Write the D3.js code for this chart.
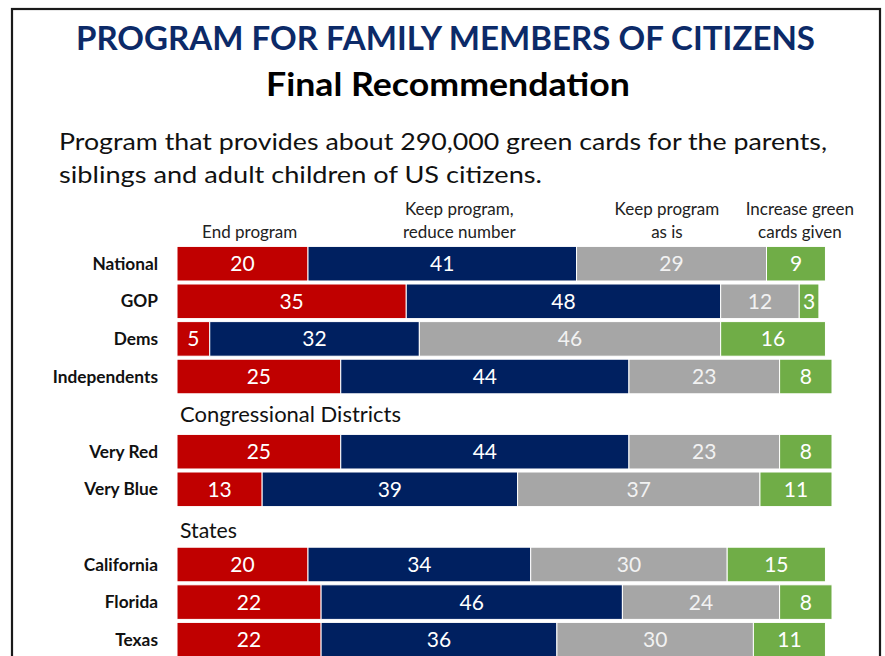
<!DOCTYPE html>
<html>
<head>
<meta charset="utf-8">
<script src="https://cdn.jsdelivr.net/npm/d3@7"></script>
<style>
  html, body { margin: 0; padding: 0; background: #fff; }
  svg { display: block; font-family: Lato, "Open Sans", "DejaVu Sans", sans-serif; }
</style>
</head>
<body>
<svg id="chart" width="885" height="656"></svg>
<script>
// ---------- data ----------
const title = "PROGRAM FOR FAMILY MEMBERS OF CITIZENS";
const subtitle = "Final Recommendation";
const description = [
  "Program that provides about 290,000 green cards for the parents,",
  "siblings and adult children of US citizens."
];
const seriesNames = ["End program", "Keep program,\nreduce number", "Keep program\nas is", "Increase green\ncards given"];
const categories = ["National", "GOP", "Dems", "Independents", "Very Red", "Very Blue", "California", "Florida", "Texas"];
const sectionHeadings = ["Congressional Districts", "States"];
const rowOrder = ["National", "GOP", "Dems", "Independents", "Congressional Districts",
                  "Very Red", "Very Blue", "States", "California", "Florida", "Texas"];
const endProgram    = [20, 35, 5, 25, 25, 13, 20, 22, 22];
const reduceNumber  = [41, 48, 32, 44, 44, 39, 34, 46, 36];
const keepAsIs      = [29, 12, 46, 23, 23, 37, 30, 24, 30];
const increaseCards = [9, 3, 16, 8, 8, 11, 15, 8, 11];
const headerPositions = [11.1, 43.1, 74.8, 95.1]; // in percent units along the bar axis

// ---------- styling ----------
const colors = ["#C00000", "#002060", "#A6A6A6", "#70AD47"];
const W = 885, H = 656;

const svg = d3.select("#chart");
svg.append("rect").attr("width", W).attr("height", H).attr("fill", "#fff");

// frame
svg.append("rect")
  .attr("x", 12).attr("y", 9).attr("width", 868).attr("height", 700)
  .attr("fill", "none").attr("stroke", "#1a1a1a").attr("stroke-width", 2.2);

// titles
svg.append("text")
  .attr("x", 445.5).attr("y", 49.5).attr("text-anchor", "middle")
  .attr("font-size", 31.5).attr("font-weight", 700).attr("fill", "#0c2a68")
  .attr("textLength", 739).attr("lengthAdjust", "spacingAndGlyphs")
  .text(title);
svg.append("text")
  .attr("x", 448).attr("y", 96).attr("text-anchor", "middle")
  .attr("font-size", 31.5).attr("font-weight", 700).attr("fill", "#000")
  .attr("textLength", 364).attr("lengthAdjust", "spacingAndGlyphs")
  .text(subtitle);

const descLengths = [768, 483];
description.forEach((line, i) => {
  svg.append("text")
    .attr("x", 59).attr("y", 150 + i * 33)
    .attr("font-size", 24).attr("fill", "#111")
    .attr("textLength", descLengths[i]).attr("lengthAdjust", "spacingAndGlyphs")
    .text(line);
});

// ---------- scales ----------
const x = d3.scaleLinear().domain([0, 100]).range([177, 832]);
const y = d3.scaleBand().domain(rowOrder).range([244.9, 658.5])
  .paddingInner(0.08).paddingOuter(0.04);

const table = categories.map((c, i) => ({
  category: c,
  values: [endProgram[i], reduceNumber[i], keepAsIs[i], increaseCards[i]]
}));
const stackData = table.map(d => {
  let acc = 0;
  return d.values.map((v, k) => {
    const seg = { category: d.category, k, v, x0: acc, x1: acc + v };
    acc += v;
    return seg;
  });
});

// column headers
seriesNames.forEach((name, k) => {
  const lines = name.split("\n");
  const t = svg.append("text")
    .attr("x", x(headerPositions[k])).attr("text-anchor", "middle")
    .attr("font-size", 17).attr("fill", "#222");
  lines.forEach((ln, j) => {
    const baseline = 238 - (lines.length - 1 - j) * 23;
    t.append("tspan").attr("x", x(headerPositions[k])).attr("y", baseline).text(ln);
  });
});

// section headings
const headingLengths = [221, 57];
sectionHeadings.forEach((h, i) => {
  svg.append("text")
    .attr("x", 180).attr("y", y(h) + y.bandwidth() / 2 + 8 + i * 3)
    .attr("font-size", 21).attr("fill", "#111")
    .attr("textLength", headingLengths[i]).attr("lengthAdjust", "spacingAndGlyphs")
    .text(h);
});

// row labels
svg.append("g").selectAll("text").data(categories).join("text")
  .attr("x", 158).attr("y", d => y(d) + y.bandwidth() / 2 + 6)
  .attr("text-anchor", "end").attr("font-size", 17.3).attr("font-weight", 700)
  .attr("fill", "#111")
  .text(d => d);

// bars
const rows = svg.append("g").selectAll("g").data(stackData).join("g");
rows.selectAll("rect").data(d => d).join("rect")
  .attr("x", d => x(d.x0))
  .attr("y", d => y(d.category))
  .attr("width", d => x(d.x1) - x(d.x0))
  .attr("height", y.bandwidth())
  .attr("fill", d => colors[d.k])
  .attr("stroke", "#fff").attr("stroke-width", 1);

rows.selectAll("text").data(d => d).join("text")
  .attr("x", d => (x(d.x0) + x(d.x1)) / 2)
  .attr("y", d => y(d.category) + y.bandwidth() / 2 + 7.5)
  .attr("text-anchor", "middle")
  .attr("font-size", 21)
  .attr("fill", d => d.k === 2 ? "#f2f2f2" : "#fff")
  .text(d => d.v);
</script>
</body>
</html>
